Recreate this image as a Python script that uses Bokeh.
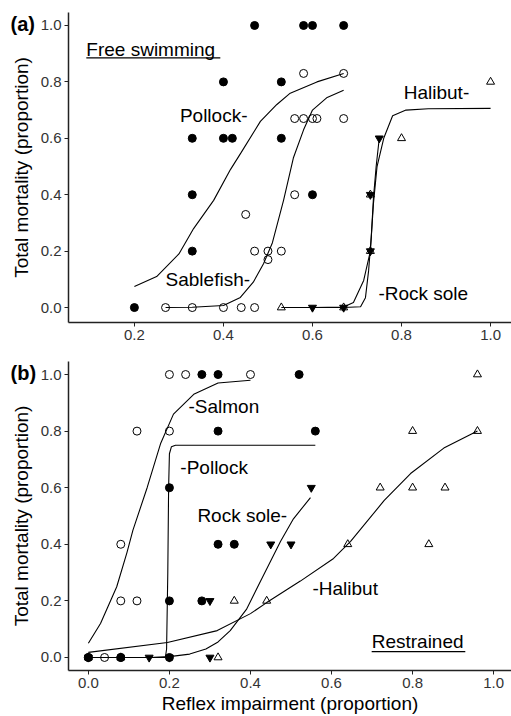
from bokeh.plotting import figure
from bokeh.layouts import column
from bokeh.models import Range1d, FixedTicker, Label
from bokeh.embed import file_html
from bokeh.resources import INLINE

FONT = "Liberation Sans"

# ---------------- Panel (a): free swimming ----------------
a_pollock_x = [0.47, 0.58, 0.60, 0.67, 0.40, 0.53, 0.33, 0.40, 0.42, 0.53, 0.33, 0.60, 0.33, 0.20]
a_pollock_y = [1.0, 1.0, 1.0, 1.0, 0.8, 0.8, 0.6, 0.6, 0.6, 0.6, 0.4, 0.4, 0.2, 0.0]
a_sable_x = [0.58, 0.67, 0.56, 0.58, 0.60, 0.61, 0.67, 0.56, 0.45, 0.47, 0.50, 0.53, 0.50,
             0.27, 0.33, 0.40, 0.44, 0.47]
a_sable_y = [0.83, 0.83, 0.67, 0.67, 0.67, 0.67, 0.67, 0.4, 0.33, 0.2, 0.2, 0.2, 0.17,
             0.0, 0.0, 0.0, 0.0, 0.0]
a_halibut_x = [0.53, 0.67, 0.73, 0.73, 0.80, 1.0]
a_halibut_y = [0.0, 0.0, 0.2, 0.4, 0.6, 0.8]
a_rock_x = [0.60, 0.67, 0.73, 0.73, 0.75]
a_rock_y = [0.0, 0.0, 0.2, 0.4, 0.6]

a_pollock_fit_x = [0.20, 0.25, 0.30, 0.333, 0.378, 0.416, 0.44, 0.483, 0.52, 0.55, 0.61, 0.67]
a_pollock_fit_y = [0.075, 0.11, 0.19, 0.28, 0.38, 0.49, 0.55, 0.66, 0.72, 0.76, 0.80, 0.83]
a_sable_fit_x = [0.27, 0.33, 0.40, 0.438, 0.467, 0.49, 0.51, 0.535, 0.557, 0.58, 0.60, 0.633, 0.67]
a_sable_fit_y = [0.0, 0.001, 0.007, 0.036, 0.09, 0.155, 0.23, 0.38, 0.53, 0.63, 0.70, 0.745, 0.77]
a_halibut_fit_x = [0.53, 0.60, 0.67, 0.692, 0.715, 0.73, 0.737, 0.745, 0.76, 0.78, 0.81, 0.86, 1.0]
a_halibut_fit_y = [0.0, 0.0, 0.002, 0.018, 0.096, 0.2, 0.37, 0.5, 0.6, 0.68, 0.70, 0.705, 0.706]
a_rock_fit_x = [0.60, 0.67, 0.708, 0.719, 0.726, 0.732, 0.737, 0.743, 0.75]
a_rock_fit_y = [0.0, 0.0, 0.003, 0.035, 0.13, 0.25, 0.39, 0.5, 0.6]

# ---------------- Panel (b): restrained ----------------
b_salmon_x = [0.20, 0.24, 0.40, 0.12, 0.20, 0.08, 0.08, 0.12, 0.0, 0.04, 0.08]
b_salmon_y = [1.0, 1.0, 1.0, 0.8, 0.8, 0.4, 0.2, 0.2, 0.0, 0.0, 0.0]
b_pollock_x = [0.28, 0.32, 0.52, 0.32, 0.56, 0.20, 0.32, 0.36, 0.20, 0.28, 0.0, 0.08, 0.20]
b_pollock_y = [1.0, 1.0, 1.0, 0.8, 0.8, 0.6, 0.4, 0.4, 0.2, 0.2, 0.0, 0.0, 0.0]
b_rock_x = [0.55, 0.45, 0.50, 0.30, 0.0, 0.15, 0.20, 0.30]
b_rock_y = [0.6, 0.4, 0.4, 0.2, 0.0, 0.0, 0.0, 0.0]
b_halibut_x = [0.96, 0.80, 0.96, 0.72, 0.80, 0.88, 0.64, 0.84, 0.36, 0.44, 0.0, 0.08, 0.32]
b_halibut_y = [1.0, 0.8, 0.8, 0.6, 0.6, 0.6, 0.4, 0.4, 0.2, 0.2, 0.0, 0.0, 0.0]

b_salmon_fit_x = [0.0, 0.03, 0.07, 0.095, 0.11, 0.145, 0.178, 0.21, 0.26, 0.32, 0.40]
b_salmon_fit_y = [0.05, 0.12, 0.25, 0.37, 0.45, 0.60, 0.755, 0.86, 0.93, 0.97, 0.98]
b_pollock_fit_x = [0.0, 0.19, 0.193, 0.196, 0.198, 0.20, 0.205, 0.215, 0.56]
b_pollock_fit_y = [0.0, 0.0, 0.03, 0.3, 0.6, 0.72, 0.745, 0.75, 0.75]
b_rock_fit_x = [0.0, 0.15, 0.20, 0.25, 0.29, 0.32, 0.35, 0.39, 0.425, 0.474, 0.506, 0.548]
b_rock_fit_y = [0.0, 0.0, 0.003, 0.012, 0.03, 0.055, 0.095, 0.17, 0.27, 0.41, 0.49, 0.565]
b_halibut_fit_x = [0.0, 0.195, 0.318, 0.40, 0.44, 0.523, 0.605, 0.647, 0.73, 0.795, 0.877, 0.96]
b_halibut_fit_y = [0.018, 0.053, 0.095, 0.155, 0.194, 0.27, 0.35, 0.41, 0.555, 0.65, 0.74, 0.80]

y_ticks = [0.0, 0.2, 0.4, 0.6, 0.8, 1.0]
a_x_ticks = [0.2, 0.4, 0.6, 0.8, 1.0]
b_x_ticks = [0.0, 0.2, 0.4, 0.6, 0.8, 1.0]
tick_text = {0.0: "0.0", 0.2: "0.2", 0.4: "0.4", 0.6: "0.6", 0.8: "0.8", 1.0: "1.0"}


def style(p, xticks, xlabel, panel):
    p.xgrid.visible = False
    p.ygrid.visible = False
    p.outline_line_color = None
    p.xaxis.ticker = FixedTicker(ticks=xticks)
    p.yaxis.ticker = FixedTicker(ticks=y_ticks)
    p.xaxis.major_label_overrides = tick_text
    p.yaxis.major_label_overrides = tick_text
    for ax in (p.xaxis, p.yaxis):
        ax.axis_line_color = "#222222"
        ax.axis_line_width = 1.5
        ax.major_tick_line_color = "#222222"
        ax.major_tick_line_width = 1
        ax.major_tick_out = 4
        ax.major_tick_in = 0
        ax.minor_tick_line_color = None
        ax.major_label_text_font = FONT
        ax.major_label_text_font_size = "15px"
        ax.major_label_text_color = "#333333"
        ax.major_label_standoff = 3
        ax.axis_label_text_font = FONT
        ax.axis_label_text_font_size = "19px"
        ax.axis_label_text_font_style = "normal"
        ax.axis_label_text_color = "black"
    p.yaxis.axis_label = "Total mortality (proportion)"
    p.yaxis.axis_label_standoff = 6
    p.xaxis.axis_label = xlabel
    p.xaxis.axis_label_standoff = 2
    # panel tag, drawn by the title in the (thin) top panel, shifted over the left margin
    p.title.text = panel
    p.title.align = "left"
    p.title.offset = -58
    p.title.standoff = -44
    p.title.vertical_align = "bottom"
    p.title.text_font = FONT
    p.title.text_font_size = "20px"
    p.title.text_font_style = "bold"
    p.title.text_color = "black"


def add_label(p, x, y, text, align="left"):
    p.add_layout(Label(x=x, y=y, text=text, text_align=align, text_baseline="alphabetic",
                       text_font=FONT, text_font_size="19px", text_color="black", y_offset=6))


# ---- figure (a)
pa = figure(width=511, height=350, output_backend="svg", toolbar_location=None,
            x_range=Range1d(0.052, 1.047), y_range=Range1d(-0.053, 1.046),
            min_border_left=68, min_border_right=0, min_border_top=12, min_border_bottom=28)
style(pa, a_x_ticks, None, "(a)")

for fx, fy in ((a_pollock_fit_x, a_pollock_fit_y), (a_sable_fit_x, a_sable_fit_y),
               (a_halibut_fit_x, a_halibut_fit_y), (a_rock_fit_x, a_rock_fit_y)):
    pa.line(fx, fy, line_color="black", line_width=1.1)

pa.scatter(a_pollock_x, a_pollock_y, marker="circle", size=8, fill_color="black", line_color="black")
pa.scatter(a_sable_x, a_sable_y, marker="circle", size=8, fill_color=None, line_color="black", line_width=1)
pa.scatter(a_halibut_x, a_halibut_y, marker="triangle", size=8, fill_color=None, line_color="black", line_width=1)
pa.scatter(a_rock_x, a_rock_y, marker="inverted_triangle", size=8, fill_color="black", line_color="black")

add_label(pa, 0.092, 0.894, "Free swimming")
pa.line([0.092, 0.393], [0.885, 0.885], line_color="black", line_width=1.2)
add_label(pa, 0.454, 0.66, "Pollock-", align="right")
add_label(pa, 0.27, 0.078, "Sablefish-")
add_label(pa, 0.805, 0.74, "Halibut-")
add_label(pa, 0.748, 0.03, "-Rock sole")

# ---- figure (b)
pb = figure(width=511, height=366, output_backend="svg", toolbar_location=None,
            x_range=Range1d(-0.049, 1.044), y_range=Range1d(-0.046, 1.046),
            min_border_left=68, min_border_right=0, min_border_top=11, min_border_bottom=46)
style(pb, b_x_ticks, "Reflex impairment (proportion)", "(b)")

for fx, fy in ((b_salmon_fit_x, b_salmon_fit_y), (b_pollock_fit_x, b_pollock_fit_y),
               (b_rock_fit_x, b_rock_fit_y), (b_halibut_fit_x, b_halibut_fit_y)):
    pb.line(fx, fy, line_color="black", line_width=1.1)

pb.scatter(b_salmon_x, b_salmon_y, marker="circle", size=8, fill_color=None, line_color="black", line_width=1)
pb.scatter(b_pollock_x, b_pollock_y, marker="circle", size=8, fill_color="black", line_color="black")
pb.scatter(b_halibut_x, b_halibut_y, marker="triangle", size=8, fill_color=None, line_color="black", line_width=1)
pb.scatter(b_rock_x, b_rock_y, marker="inverted_triangle", size=8, fill_color="black", line_color="black")

add_label(pb, 0.247, 0.866, "-Salmon")
add_label(pb, 0.227, 0.65, "-Pollock")
add_label(pb, 0.269, 0.48, "Rock sole-")
add_label(pb, 0.553, 0.223, "-Halibut")
add_label(pb, 0.699, 0.035, "Restrained")
pb.line([0.699, 0.93], [0.021, 0.021], line_color="black", line_width=1.2)

layout = column(pa, pb, spacing=0)
open("out.html", "w").write(file_html(layout, INLINE))
